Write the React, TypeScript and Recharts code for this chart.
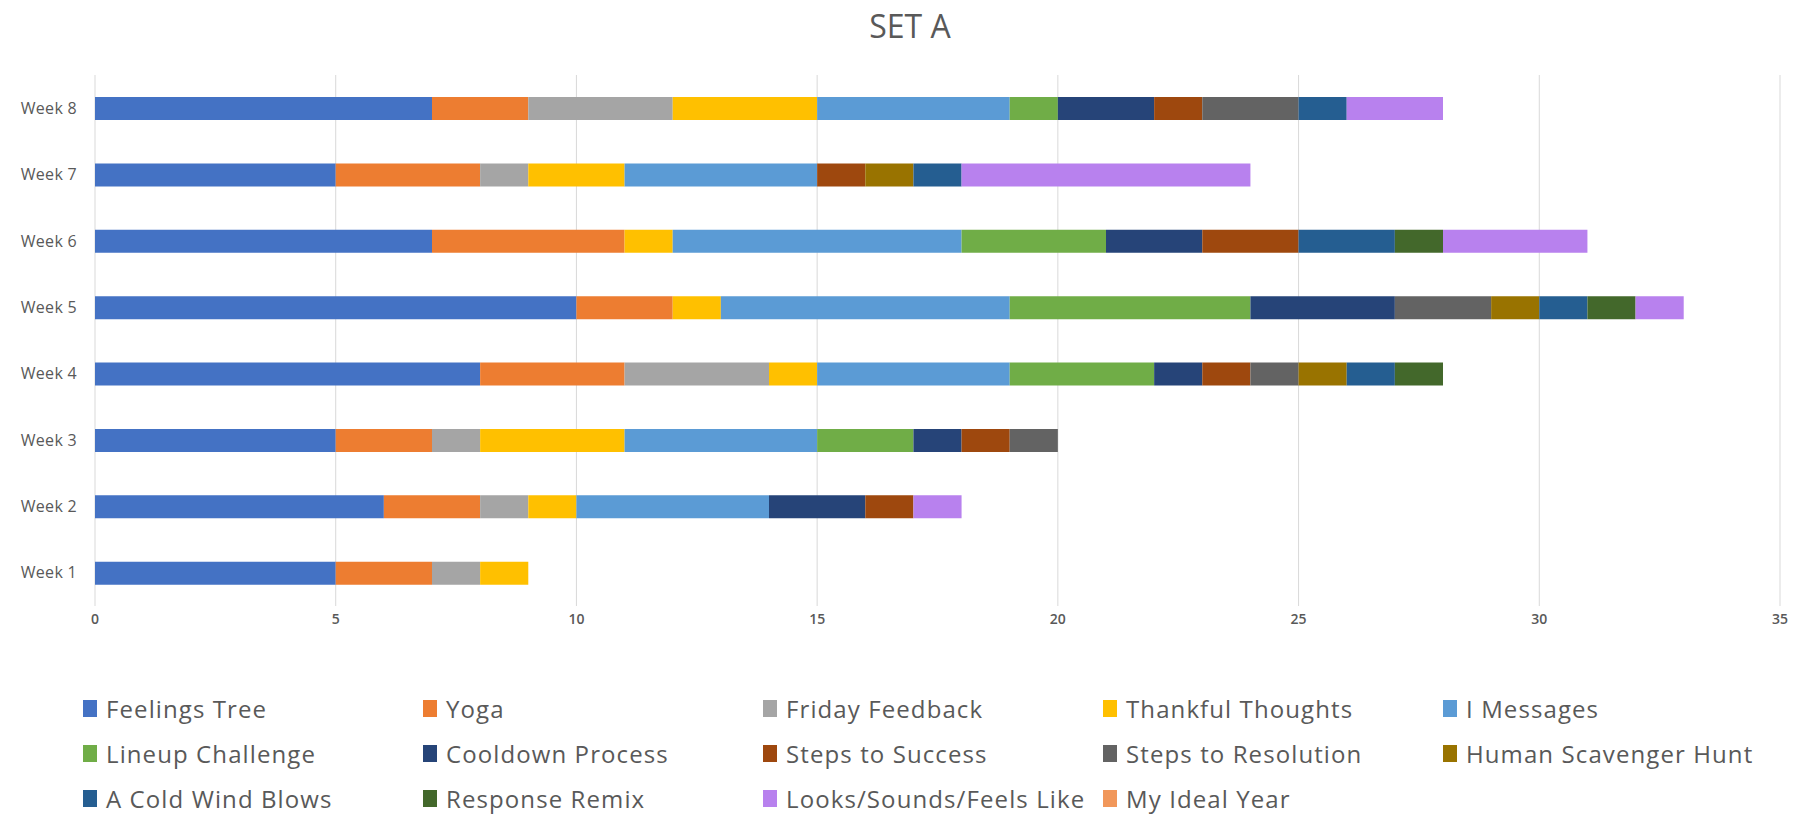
import { BarChart, Bar, XAxis, YAxis, CartesianGrid } from 'recharts'

const WEEKS = ['Week 1', 'Week 2', 'Week 3', 'Week 4', 'Week 5', 'Week 6', 'Week 7', 'Week 8']
const X_TICKS = [0, 5, 10, 15, 20, 25, 30, 35]

// one value per week, Week 1 .. Week 8
const feelingsTree       = [5, 6, 5, 8, 10, 7, 5, 7]
const yoga               = [2, 2, 2, 3, 2, 4, 3, 2]
const fridayFeedback     = [1, 1, 1, 3, 0, 0, 1, 3]
const thankfulThoughts   = [1, 1, 3, 1, 1, 1, 2, 3]
const iMessages          = [0, 4, 4, 4, 6, 6, 4, 4]
const lineupChallenge    = [0, 0, 2, 3, 5, 3, 0, 1]
const cooldownProcess    = [0, 2, 1, 1, 3, 2, 0, 2]
const stepsToSuccess     = [0, 1, 1, 1, 0, 2, 1, 1]
const stepsToResolution  = [0, 0, 1, 1, 2, 0, 0, 2]
const humanScavengerHunt = [0, 0, 0, 1, 1, 0, 1, 0]
const aColdWindBlows     = [0, 0, 0, 1, 1, 2, 1, 1]
const responseRemix      = [0, 0, 0, 1, 1, 1, 0, 0]
const looksSoundsFeels   = [0, 1, 0, 0, 1, 3, 6, 2]
const myIdealYear        = [0, 0, 0, 0, 0, 0, 0, 0]

const SERIES: { name: string; color: string; values: number[] }[] = [
  { name: 'Feelings Tree',           color: '#4472C4', values: feelingsTree },
  { name: 'Yoga',                    color: '#ED7D31', values: yoga },
  { name: 'Friday Feedback',         color: '#A5A5A5', values: fridayFeedback },
  { name: 'Thankful Thoughts',       color: '#FFC000', values: thankfulThoughts },
  { name: 'I Messages',              color: '#5B9BD5', values: iMessages },
  { name: 'Lineup Challenge',        color: '#70AD47', values: lineupChallenge },
  { name: 'Cooldown Process',        color: '#264478', values: cooldownProcess },
  { name: 'Steps to Success',        color: '#9E480E', values: stepsToSuccess },
  { name: 'Steps to Resolution',     color: '#636363', values: stepsToResolution },
  { name: 'Human Scavenger Hunt',    color: '#997300', values: humanScavengerHunt },
  { name: 'A Cold Wind Blows',       color: '#255E91', values: aColdWindBlows },
  { name: 'Response Remix',          color: '#43682B', values: responseRemix },
  { name: 'Looks/Sounds/Feels Like', color: '#B881EE', values: looksSoundsFeels },
  { name: 'My Ideal Year',           color: '#F1975A', values: myIdealYear },
]

const data = WEEKS.map((week, i) => {
  const row: Record<string, string | number> = { week }
  SERIES.forEach((s) => { row[s.name] = s.values[i] })
  return row
})

const FONT = '"Open Sans", Lato, sans-serif'
const TEXT = '#595959'

export default function App() {
  return (
    <div style={{ position: 'absolute', left: 0, top: 0, width: 1804, height: 815, background: '#fff', fontFamily: FONT }}>
      <div style={{ position: 'absolute', left: 0, top: 4, width: 1820, textAlign: 'center', fontSize: 32, color: TEXT }}>
        SET A
      </div>
      <BarChart
        width={1804}
        height={815}
        data={data}
        layout="vertical"
        margin={{ top: 75, right: 24, left: 0, bottom: 179 }}
      >
        <CartesianGrid horizontal={false} stroke="#d9d9d9" />
        <XAxis
          type="number"
          domain={[0, 35]}
          ticks={X_TICKS}
          axisLine={false}
          tickLine={false}
          tick={{ fontSize: 14, fill: TEXT, fontWeight: 600 }}
          height={30}
        />
        <YAxis
          type="category"
          dataKey="week"
          reversed
          width={95}
          axisLine={false}
          tickLine={false}
          tickSize={0}
          tickMargin={18}
          tick={{ fontSize: 16, fill: TEXT, letterSpacing: 0.3 }}
        />
        {SERIES.map((s) => (
          <Bar key={s.name} dataKey={s.name} stackId="a" fill={s.color} barSize={23} isAnimationActive={false} />
        ))}
      </BarChart>
      {SERIES.map((s, i) => (
        <div
          key={s.name}
          style={{
            position: 'absolute',
            left: 83 + (i % 5) * 340,
            top: 708 + Math.floor(i / 5) * 45 - 16,
            height: 32,
            display: 'flex',
            alignItems: 'center',
            fontSize: 24,
            letterSpacing: 1.1,
            color: TEXT,
            whiteSpace: 'nowrap',
          }}
        >
          <span style={{ width: 14, height: 17, background: s.color, marginRight: 9, display: 'inline-block' }} />
          {s.name}
        </div>
      ))}
    </div>
  )
}
